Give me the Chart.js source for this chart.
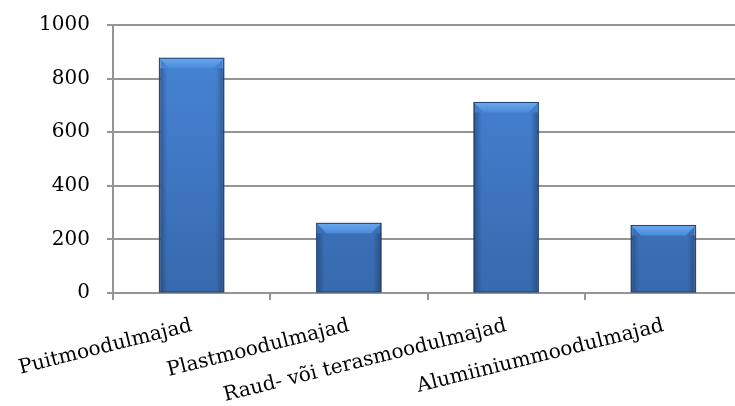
<!DOCTYPE html>
<html>
<head>
<meta charset="utf-8">
<script src="https://cdn.jsdelivr.net/npm/chart.js@4/dist/chart.umd.min.js"></script>
<style>
  html, body { margin: 0; padding: 0; background: #fff; overflow: hidden; }
  #wrap { width: 745px; height: 406px; }
</style>
</head>
<body>
<div id="wrap"><canvas id="chart" width="745" height="406"></canvas></div>
<script>
// Andmed
const categories = ['Puitmoodulmajad', 'Plastmoodulmajad', 'Raud- või terasmoodulmajad', 'Alumiiniummoodulmajad'];
const values = [876, 260, 711, 252];
const yTicks = [0, 200, 400, 600, 800, 1000];

const gridColor = '#959595';
const labelFont = { family: 'DejaVu Serif', size: 20 };

function barFill(context) {
    const chart = context.chart;
    const area = chart.chartArea;
    if (!area) return '#3c74c0';
    const g = chart.ctx.createLinearGradient(0, area.top, 0, area.bottom);
    g.addColorStop(0, '#4887da');
    g.addColorStop(1, '#3769ad');
    return g;
}

// bevel look on the bars (drawn over the bar elements)
const bevel = {
    id: 'bevel',
    afterDatasetsDraw(chart) {
        const c = chart.ctx;
        chart.getDatasetMeta(0).data.forEach(function (bar) {
            const half = bar.width / 2;
            const l = bar.x - half, r = bar.x + half;
            const t = bar.y, b = bar.base;
            const d = Math.min(10, (b - t) / 3);
            c.save();
            // top highlight
            c.beginPath();
            c.moveTo(l, t); c.lineTo(r, t); c.lineTo(r - d, t + d); c.lineTo(l + d, t + d);
            c.closePath();
            const gt = c.createLinearGradient(0, t, 0, t + d);
            gt.addColorStop(0, '#6aa8ee');
            gt.addColorStop(1, '#4a8ad9');
            c.fillStyle = gt;
            c.fill();
            // side shading
            const gl = c.createLinearGradient(l, 0, l + 8, 0);
            gl.addColorStop(0, 'rgba(20,45,85,0.45)');
            gl.addColorStop(1, 'rgba(20,45,85,0)');
            c.fillStyle = gl;
            c.fillRect(l, t + d, 8, b - t - d);
            const gr = c.createLinearGradient(r, 0, r - 8, 0);
            gr.addColorStop(0, 'rgba(20,45,85,0.45)');
            gr.addColorStop(1, 'rgba(20,45,85,0)');
            c.fillStyle = gr;
            c.fillRect(r - 8, t + d, 8, b - t - d);
            c.strokeStyle = '#1f4070';
            c.lineWidth = 1;
            c.strokeRect(l, t, r - l, b - t);
            c.restore();
        });
    }
};

const ctx = document.getElementById('chart').getContext('2d');
const myChart = new Chart(ctx, {
    type: 'bar',
    data: {
        labels: categories,
        datasets: [{
            data: values,
            backgroundColor: barFill,
            borderColor: '#1f4070',
            borderWidth: 1,
            barPercentage: 0.41,
            categoryPercentage: 1
        }]
    },
    options: {
        responsive: false,
        animation: false,
        layout: { padding: { top: 25, right: 3, left: 0, bottom: 0 } },
        plugins: { legend: { display: false }, tooltip: { enabled: false } },
        scales: {
            x: {
                grid: {
                    offset: true,
                    drawOnChartArea: false,
                    drawTicks: true,
                    tickLength: 7,
                    color: gridColor,
                    lineWidth: 2
                },
                border: { color: gridColor, width: 2 },
                ticks: {
                    autoSkip: false,
                    minRotation: 14,
                    maxRotation: 14,
                    padding: 14,
                    color: '#000',
                    font: labelFont
                },
                afterFit: function (scale) {
                    scale.height = 113;
                    scale.paddingLeft = 0;
                    scale.paddingRight = 0;
                }
            },
            y: {
                min: 0,
                max: 1000,
                afterBuildTicks: function (scale) {
                    scale.ticks = yTicks.map(v => ({ value: v }));
                },
                grid: {
                    color: gridColor,
                    lineWidth: 2,
                    tickLength: 6
                },
                border: { color: gridColor, width: 2 },
                ticks: {
                    padding: 17,
                    color: '#000',
                    font: labelFont,
                    callback: function (v) { return String(v); }
                },
                afterFit: function (scale) {
                    scale.width = 113;
                    scale.paddingTop = 0;
                    scale.paddingBottom = 0;
                }
            }
        }
    },
    plugins: [bevel]
});
</script>
</body>
</html>
